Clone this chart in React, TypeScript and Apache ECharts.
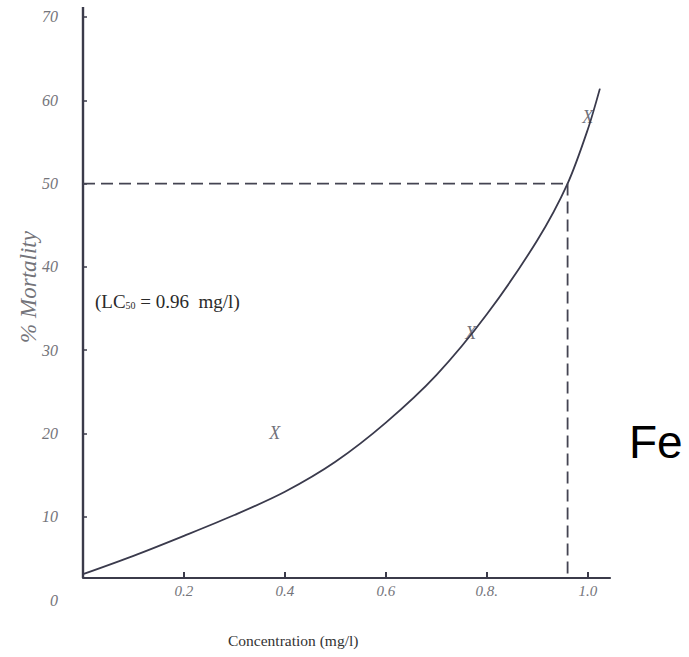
import React, { useEffect, useRef } from "react";
import * as echarts from "echarts";

// ---- data ----
const xTickValues = [0.2, 0.4, 0.6, 0.8, 1.0];
const xTickLabels = ["0.2", "0.4", "0.6", "0.8.", "1.0"];
const yTickValues = [10, 20, 30, 40, 50, 60, 70];
const yLabelValues = [0, 10, 20, 30, 40, 50, 60, 70];

const curveX = [0, 0.1, 0.2, 0.3, 0.4, 0.5, 0.6, 0.7, 0.8, 0.9, 0.96, 1.0, 1.024];
const curveY = [3.1, 5.3, 7.7, 10.2, 13.0, 16.6, 21.3, 27.0, 34.3, 43.2, 50, 56.5, 61.4];

const obsX = [0.38, 0.768, 1.0];
const obsY = [20, 32, 58];

const lc50 = 0.96;
const lcMortality = 50;

const xMin = 0;
const xMax = 1.044;
const yMin = 0;
const yMax = 71.2;
const baseY = 2.64; // level where the x axis is drawn

const AXIS_COLOR = "#3b3b4a";
const LABEL_COLOR = "#74747a";

export default function App() {
  const ref = useRef<HTMLDivElement>(null);

  useEffect(() => {
    if (!ref.current) return;
    const chart = echarts.init(ref.current, null, { renderer: "svg" });

    const curveData = curveX.map((x, i) => [x, curveY[i]]);
    const obsData = obsX.map((x, i) => [x, obsY[i]]);

    chart.setOption({
      animation: false,
      backgroundColor: "#ffffff",
      grid: { left: 83, right: 79, top: 7, bottom: 57, containLabel: false },
      xAxis: {
        type: "value",
        min: xMin,
        max: xMax,
        offset: -22,
        axisLine: { show: true, lineStyle: { color: AXIS_COLOR, width: 2.2 } },
        axisTick: {
          show: true,
          inside: true,
          length: 6,
          customValues: xTickValues,
          lineStyle: { color: AXIS_COLOR, width: 2 },
        },
        axisLabel: {
          customValues: xTickValues,
          formatter: (v: number) => {
            const i = xTickValues.findIndex((t) => Math.abs(t - v) < 1e-6);
            return i >= 0 ? xTickLabels[i] : "";
          },
          margin: 5,
          color: LABEL_COLOR,
          fontStyle: "italic",
          fontFamily: "Liberation Serif",
          fontSize: 15,
        },
        splitLine: { show: false },
      },
      yAxis: {
        type: "value",
        min: yMin,
        max: yMax,
        axisLine: { show: false },
        axisTick: {
          show: true,
          inside: true,
          length: 4,
          customValues: yTickValues,
          lineStyle: { color: AXIS_COLOR, width: 1.5 },
        },
        axisLabel: {
          customValues: yLabelValues,
          margin: 25,
          color: LABEL_COLOR,
          fontStyle: "italic",
          fontFamily: "Liberation Serif",
          fontSize: 16,
        },
        splitLine: { show: false },
      },
      series: [
        {
          type: "line",
          name: "yaxis",
          data: [
            [xMin, baseY],
            [xMin, yMax],
          ],
          symbol: "none",
          clip: false,
          silent: true,
          lineStyle: { color: AXIS_COLOR, width: 2.4 },
        },
        {
          type: "line",
          name: "curve",
          data: curveData,
          smooth: 0.3,
          symbol: "none",
          clip: false,
          lineStyle: { color: "#3a3a4c", width: 1.8 },
        },
        {
          type: "line",
          name: "lc50h",
          data: [
            [xMin, lcMortality],
            [lc50, lcMortality],
          ],
          symbol: "none",
          clip: false,
          lineStyle: { color: "#444452", width: 1.8, type: [12, 6] },
        },
        {
          type: "line",
          name: "lc50v",
          data: [
            [lc50, lcMortality],
            [lc50, baseY],
          ],
          symbol: "none",
          clip: false,
          lineStyle: { color: "#444452", width: 1.8, type: [12, 6] },
        },
        {
          type: "scatter",
          name: "observed",
          data: obsData,
          symbolSize: 1,
          itemStyle: { color: "rgba(0,0,0,0)" },
          label: {
            show: true,
            position: "inside",
            formatter: "X",
            color: "#4a4a55",
            fontStyle: "italic",
            fontFamily: "Liberation Serif",
            fontSize: 18,
          },
        },
      ],
      graphic: [
        {
          type: "text",
          x: 28,
          y: 287,
          rotation: Math.PI / 2,
          style: {
            text: "% Mortality",
            font: 'italic 23px "Liberation Serif"',
            fill: LABEL_COLOR,
            textAlign: "center",
            textVerticalAlign: "middle",
          },
        },
        {
          type: "text",
          x: 228,
          y: 640,
          style: {
            text: "Concentration (mg/l)",
            font: '15.5px "Liberation Serif"',
            fill: "#333333",
            textAlign: "left",
            textVerticalAlign: "middle",
          },
        },
        {
          type: "text",
          x: 95,
          y: 301,
          style: {
            text: "{a|(LC}{s|50}{a| = 0.96  mg/l)}",
            textVerticalAlign: "middle",
            rich: {
              a: { fontSize: 19, fontFamily: "Liberation Serif", fill: "#2a2a2a" },
              s: {
                fontSize: 10,
                fontFamily: "Liberation Serif",
                fill: "#2a2a2a",
                verticalAlign: "bottom",
                padding: [7, 0, 0, 0],
              },
            },
          },
        },
        {
          type: "text",
          x: 629,
          y: 442,
          style: {
            text: "Fe",
            font: '46px "Liberation Sans"',
            fill: "#000000",
            textAlign: "left",
            textVerticalAlign: "middle",
          },
        },
      ],
    });

    return () => chart.dispose();
  }, []);

  return (
    <div
      ref={ref}
      style={{ position: "fixed", left: 0, top: 0, width: 689, height: 657, background: "#fff" }}
    />
  );
}
